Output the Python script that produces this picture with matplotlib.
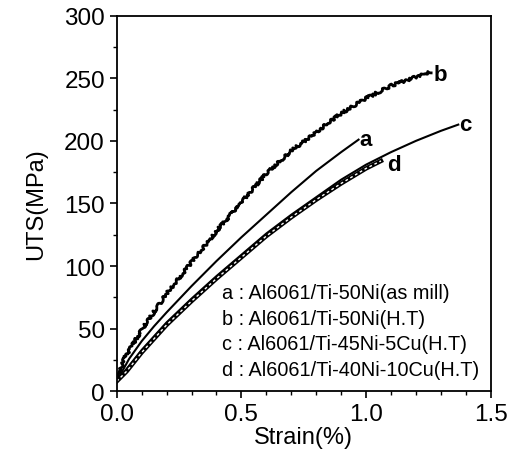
import matplotlib
matplotlib.use("Agg")
import matplotlib.pyplot as plt
from matplotlib.ticker import MultipleLocator

plt.rcParams['font.family'] = ['Liberation Sans', 'DejaVu Sans']

# strain (%) / UTS (MPa)
strain_a = [0.0, 0.05, 0.10, 0.15, 0.20, 0.30, 0.40, 0.50, 0.60, 0.70, 0.80, 0.90, 0.97]
uts_a = [8, 26, 40, 52, 63, 84, 104, 123, 141, 159, 176, 191, 201]

strain_b = [0.0, 0.03, 0.10, 0.20, 0.30, 0.40, 0.50, 0.60, 0.70, 0.80, 0.90, 1.00, 1.10, 1.20, 1.26]
uts_b = [8, 26, 49, 78, 103, 128, 151, 174, 192, 207, 222, 234, 244, 251, 255]

strain_c = [0.0, 0.04, 0.10, 0.20, 0.30, 0.40, 0.50, 0.60, 0.70, 0.80, 0.90, 1.00, 1.10, 1.20, 1.30, 1.37]
uts_c = [8, 18, 33, 55, 74, 92, 109, 126, 141, 155, 169, 181, 191, 200, 208, 213]

strain_d = [0.0, 0.04, 0.10, 0.20, 0.30, 0.40, 0.50, 0.60, 0.70, 0.80, 0.90, 1.00, 1.06]
uts_d = [8, 16, 31, 53, 72, 90, 107, 124, 139, 153, 166, 178, 184]

curve_tags = ['a', 'b', 'c', 'd']
tag_x = [1.00, 1.30, 1.40, 1.11]
tag_y = [201, 253, 213, 181]

legend_lines = [
    'a : Al6061/Ti-50Ni(as mill)',
    'b : Al6061/Ti-50Ni(H.T)',
    'c : Al6061/Ti-45Ni-5Cu(H.T)',
    'd : Al6061/Ti-40Ni-10Cu(H.T)',
]

fig = plt.figure(figsize=(5.13, 4.56), dpi=100)
ax = fig.add_axes([0.2275, 0.1397, 0.729, 0.8237])

ax.plot(strain_a, uts_a, color='black', lw=1.5)
lb, = ax.plot(strain_b, uts_b, color='black', lw=2.0)
lb.set_sketch_params(scale=1.5, length=4, randomness=8)
ax.plot(strain_c, uts_c, color='black', lw=1.5)
ax.plot(strain_d, uts_d, color='black', lw=3.2)
ax.plot(strain_d, uts_d, color='white', lw=1.0, ls=(0, (2, 2)))

for t, x, y in zip(curve_tags, tag_x, tag_y):
    ax.text(x, y, t, fontsize=16, fontweight='bold', ha='center', va='center')

for i, s in enumerate(legend_lines):
    ax.text(0.281, 0.2636 - i * 0.0687, s, transform=ax.transAxes,
            fontsize=14.3, ha='left', va='center')

ax.set_xlim(0, 1.5)
ax.set_ylim(0, 300)
ax.xaxis.set_major_locator(MultipleLocator(0.5))
ax.xaxis.set_minor_locator(MultipleLocator(0.1))
ax.yaxis.set_major_locator(MultipleLocator(50))
ax.yaxis.set_minor_locator(MultipleLocator(25))
ax.xaxis.set_major_formatter(plt.FuncFormatter(lambda v, p: f'{v:.1f}'))
ax.tick_params(which='major', direction='out', length=5, width=1.2, labelsize=17.5)
ax.tick_params(which='minor', direction='out', length=3, width=1.0)
for sp in ax.spines.values():
    sp.set_linewidth(1.3)

ax.set_xlabel('Strain(%)', fontsize=17, labelpad=1)
ax.set_ylabel('UTS(MPa)', fontsize=17, labelpad=12)

fig.savefig('out.png', dpi=100)
